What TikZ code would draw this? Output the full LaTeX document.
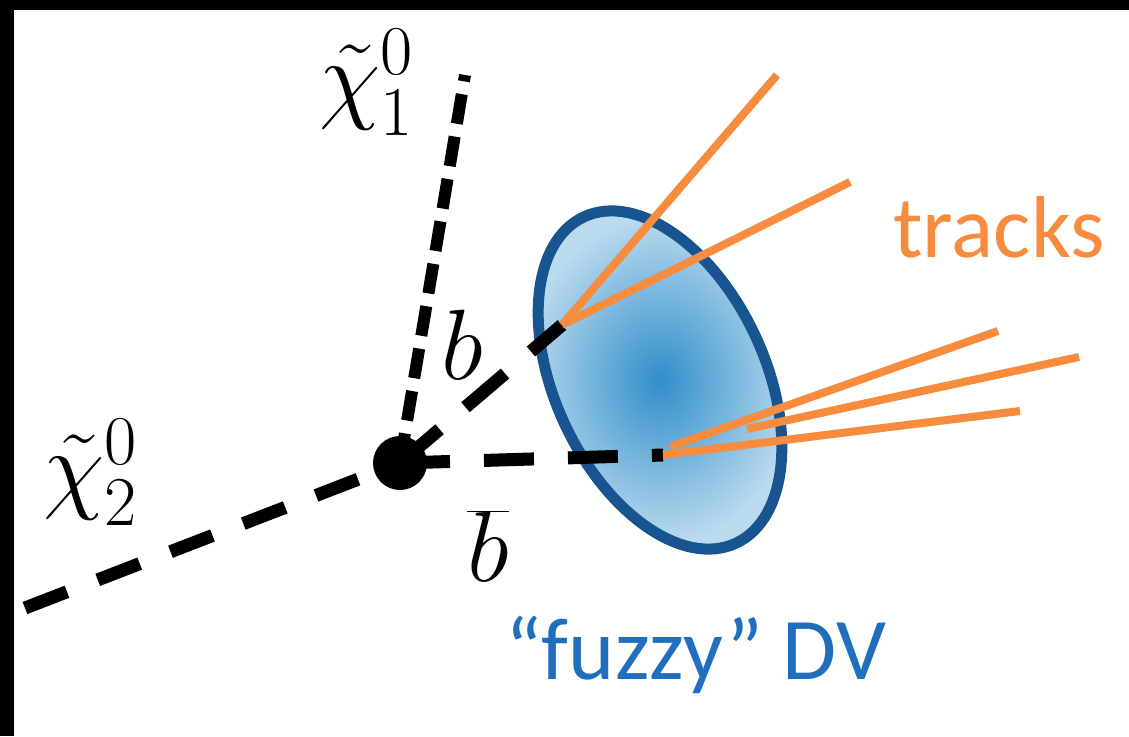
\documentclass[tikz,border=0pt]{standalone}
\usepackage{fix-cm}
\usepackage{fontspec}
\newfontfamily\carlito{Carlito}
\definecolor{trk}{RGB}{247,140,62}
\definecolor{dvblue}{RGB}{32,110,190}
\definecolor{rim}{RGB}{24,84,144}
\definecolor{fzin}{RGB}{48,142,202}
\definecolor{fzout}{RGB}{186,218,238}
\begin{document}
\begin{tikzpicture}[x=1pt,y=-1pt,
  part/.style={line width=13pt, black},
  track/.style={line width=8pt, trk},
  mlabel/.style={inner sep=0pt, font=\fontsize{100}{110}\selectfont},
  tlabel/.style={anchor=base west, inner sep=0pt, font=\carlito\fontsize{88}{100}\selectfont}]
\useasboundingbox (0,0) rectangle (1129,736);
\fill[white] (0,0) rectangle (1129,736);
\fill[black] (0,0) rectangle (1129,10);
\fill[black] (0,0) rectangle (14,736);
% fuzzy vertex ellipse
\shade[inner color=fzin, outer color=fzout, shift={(660,380)}, rotate=-65] (0,0) ellipse [x radius=180, y radius=105];
\draw[rim, line width=11pt, shift={(660,380)}, rotate=-65] (0,0) ellipse [x radius=180, y radius=105];
% coordinates
\coordinate (vc) at (400,463);
\coordinate (e2) at (25,608);
\coordinate (e1) at (465,75);
\coordinate (V1) at (562,325);
\coordinate (V2) at (663,455);
\coordinate (V2b) at (670,447);
\coordinate (V2c) at (747,429);
\coordinate (t1) at (777,75);
\coordinate (t2) at (850,182);
\coordinate (t3) at (998,331);
\coordinate (t4) at (1079,357);
\coordinate (t5) at (1020,411);
% dashed particle lines
\draw[part, dash pattern=on 45pt off 33pt] (e2) -- (vc);
\draw[part, line width=12pt, dash pattern=on 30pt off 13pt] (vc) -- (e1);
\draw[part, dash pattern=on 52pt off 34pt] (vc) -- (V1);
\draw[part, dash pattern=on 50pt off 34pt] (vc) -- (V2);
% tracks
\draw[track] (V1) -- (t1);
\draw[track] (V1) -- (t2);
\draw[track] (V2b) -- (t3);
\draw[track] (V2c) -- (t4);
\draw[track] (V2) -- (t5);
% vertex dot
\node[circle, fill=black, inner sep=0pt, minimum size=54pt] (v) at (vc) {};
% labels
\node[mlabel] (chi1) at (366,82) {$\tilde{\chi}^0_1$};
\node[mlabel] (chi2) at (90,472) {$\tilde{\chi}^0_2$};
\node[mlabel] (blab) at (462,345) {$b$};
\node[mlabel] (bbar) at (488,546) {$\overline{b}$};
\node[tlabel, text=trk] (tracks) at (893,257) {tracks};
\node[tlabel, text=dvblue] (dv) at (505,679) {“fuzzy” DV};
\end{tikzpicture}
\end{document}
